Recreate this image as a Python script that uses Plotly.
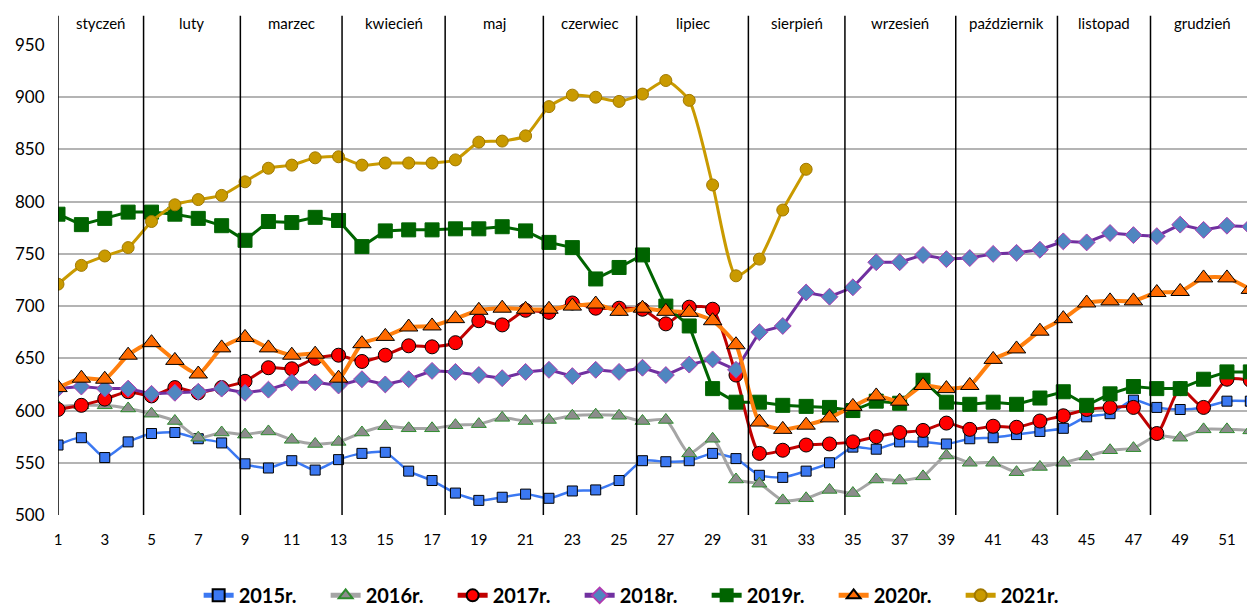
import plotly.graph_objects as go

weeks = list(range(1, 53))

y2015 = [567, 574, 555, 570, 578, 579, 573, 569, 549, 545, 552, 543, 553, 559, 560, 542,
         533, 521, 514, 517, 520, 516, 523, 524, 533, 552, 551, 552, 559, 554, 538, 536,
         542, 550, 565, 563, 570, 570, 568, 573, 574, 577, 580, 583, 594, 597, 610, 603,
         601, 603, 609, 609]
y2016 = [604, 605, 605, 602, 597, 590, 574, 579, 577, 580, 572, 568, 570, 579, 585, 583,
         583, 586, 587, 593, 590, 591, 595, 596, 595, 590, 591, 559, 573, 534, 530, 514,
         516, 524, 521, 534, 533, 537, 557, 550, 550, 541, 546, 550, 556, 562, 564, 576,
         574, 582, 582, 581]
y2017 = [601, 605, 611, 618, 614, 622, 617, 622, 628, 641, 640, 650, 653, 647, 653, 662,
         661, 665, 686, 682, 696, 694, 703, 698, 698, 697, 683, 699, 697, 634, 559, 562,
         567, 568, 570, 575, 579, 581, 588, 582, 585, 584, 590, 595, 601, 603, 603, 578,
         621, 603, 630, 629]
y2018 = [621, 623, 621, 621, 616, 617, 618, 621, 617, 620, 627, 627, 624, 630, 625, 630,
         638, 637, 634, 631, 637, 639, 633, 639, 637, 641, 634, 644, 649, 639, 675, 681,
         713, 709, 718, 742, 742, 749, 745, 746, 750, 751, 754, 762, 761, 770, 768, 767,
         778, 773, 777, 776]
y2019 = [788, 778, 784, 790, 790, 788, 784, 777, 763, 781, 780, 785, 782, 757, 772, 773,
         773, 774, 774, 776, 772, 761, 756, 726, 737, 749, 700, 681, 621, 608, 608, 605,
         604, 603, 600, 609, 607, 629, 608, 606, 608, 606, 612, 618, 605, 616, 623, 621,
         621, 630, 637, 637]
y2020 = [622, 631, 630, 653, 665, 648, 635, 660, 670, 660, 653, 654, 631, 664, 671, 680,
         681, 688, 696, 698, 697, 697, 700, 702, 695, 698, 695, 694, 686, 663, 589, 582,
         586, 593, 604, 614, 609, 624, 621, 624, 649, 659, 676, 688, 703, 705, 705, 713,
         714, 727, 727, 716]
y2021 = [721, 739, 748, 756, 781, 797, 802, 806, 819, 832, 835, 842, 843, 835, 837, 837,
         837, 840, 857, 858, 863, 891, 902, 900, 896, 903, 916, 897, 816, 729, 745, 792,
         831]

months = ["styczeń", "luty", "marzec", "kwiecień", "maj", "czerwiec", "lipiec",
          "sierpień", "wrzesień", "październik", "listopad", "grudzień"]
month_bounds = [1, 4.66, 8.8, 13.15, 17.56, 21.76, 25.75, 30.53, 34.66, 39.4, 43.75, 47.73, 52.2]

series = [
    ("2015r.", y2015, "#3b78f2", 2.5, "square", 10, "#3b78f2", "#000000", 1, "spline"),
    ("2016r.", y2016, "#a5a5a5", 3, "triangle-up", 13, "#8c8c8c", "#2e8b2e", 1, "spline"),
    ("2017r.", y2017, "#c00000", 3, "circle", 14, "#ff0000", "#000000", 1, "spline"),
    ("2018r.", y2018, "#7030a0", 3, "diamond", 13, "#4f86c0", "#b03cb0", 1, "linear"),
    ("2019r.", y2019, "#006400", 3, "square", 14, "#006400", "#006400", 1, "linear"),
    ("2020r.", y2020, "#ff7f0e", 4, "triangle-up", 16, "#ff6a00", "#000000", 1, "spline"),
    ("2021r.", y2021, "#c99a00", 3, "circle", 12, "#c99a00", "#a07800", 1, "spline"),
]

fig = go.Figure()
for name, ys, lc, lw, sym, ms, mf, mlc, mlw, shape in series:
    fig.add_trace(go.Scatter(
        x=weeks[:len(ys)], y=ys, name=name, mode="lines+markers",
        line=dict(color=lc, width=lw, shape=shape, smoothing=0.6),
        marker=dict(symbol=sym, size=ms, color=mf, line=dict(color=mlc, width=mlw)),
    ))

# month boundary lines and labels
for b in month_bounds[:-1]:
    fig.add_shape(type="line", xref="x", yref="paper", x0=b, x1=b, y0=0, y1=1.062,
                  line=dict(color="#000000", width=1.5))
for i, m in enumerate(months):
    cx = (month_bounds[i] + month_bounds[i + 1]) / 2
    fig.add_annotation(x=cx, xref="x", y=1.047, yref="paper", text=m, showarrow=False,
                       font=dict(size=15, color="#000000", family="Lato, sans-serif"),
                       yanchor="middle")

fig.update_layout(
    width=1247, height=599,
    margin=dict(l=50, r=0, t=37, b=92, autoexpand=False),
    paper_bgcolor="white", plot_bgcolor="white",
    font=dict(family="Lato, sans-serif", color="#000000"),
    showlegend=True,
    legend=dict(orientation="h", x=0.1175, xanchor="left", y=-0.171, yanchor="middle",
                font=dict(size=20, color="#000000", family="Lato, sans-serif", weight="bold"),
                entrywidth=82, entrywidthmode="pixels", itemsizing="constant"),
    xaxis=dict(range=[1, 52.2], tickmode="array", tickvals=list(range(1, 53, 2)),
               showgrid=False, zeroline=False, showline=False, ticks="outside",
               ticklen=11, tickcolor="rgba(0,0,0,0)", automargin=False,
               tickfont=dict(size=15, color="#000000")),
    yaxis=dict(range=[500, 950], tickmode="array", tickvals=list(range(500, 951, 50)),
               showgrid=True, gridcolor="#b4b4b4", gridwidth=1.5, zeroline=False,
               showline=False, ticks="outside", ticklen=9, tickcolor="rgba(0,0,0,0)",
               automargin=False, tickfont=dict(size=17, color="#000000")),
)

fig.write_html("out.html")
